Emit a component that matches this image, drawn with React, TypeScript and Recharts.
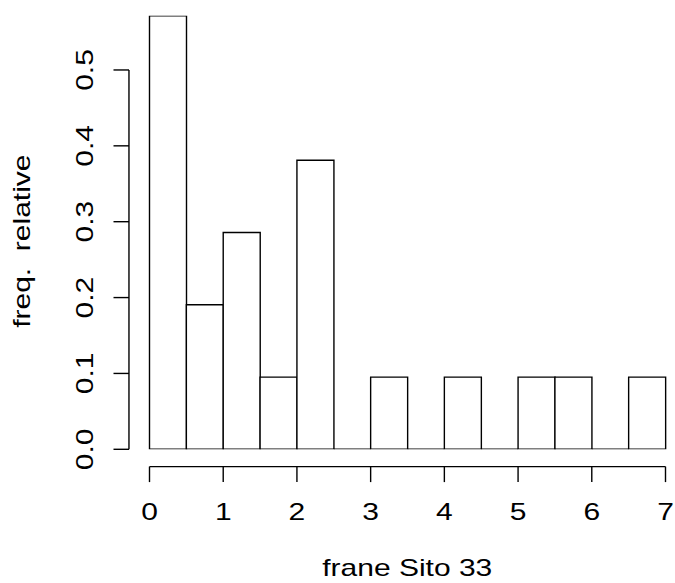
import React from 'react';
import { ComposedChart, Bar, XAxis, YAxis, ReferenceLine } from 'recharts';

// Histogram of "frane Sito 33" (density scale), bins of width 0.5
const binLabels = [
  '0-0.5', '0.5-1', '1-1.5', '1.5-2', '2-2.5', '2.5-3', '3-3.5',
  '3.5-4', '4-4.5', '4.5-5', '5-5.5', '5.5-6', '6-6.5', '6.5-7',
];
const binMids = [0.25, 0.75, 1.25, 1.75, 2.25, 2.75, 3.25, 3.75, 4.25, 4.75, 5.25, 5.75, 6.25, 6.75];
const binDensity = [
  0.5714, 0.1905, 0.2857, 0.0952, 0.381, 0, 0.0952,
  0, 0.0952, 0, 0.0952, 0.0952, 0, 0.0952,
];
const xTicks = [0, 1, 2, 3, 4, 5, 6, 7];
const yTicks = [0, 0.1, 0.2, 0.3, 0.4, 0.5];
const xTitle = 'frane Sito 33';
const yTitle = 'freq.  relative';

const data = binLabels.map((b, i) => ({ bin: b, mid: binMids[i], density: binDensity[i] }));

const W = 675;
const H = 583;
const FONT = '"Liberation Sans", Arial, Helvetica, sans-serif';
const FS = 24;
const STRETCH = 1.25;
const LW = 1.4;

const HistBar = (props: any) => {
  const { x, y, width, height } = props;
  return (
    <path
      d={`M${x},${y}h${width}v${height}h${-width}Z`}
      fill="#ffffff"
      stroke="#000000"
      strokeWidth={LW}
    />
  );
};

const XTick = (props: any) => {
  const { x, y, payload } = props;
  return (
    <g transform={`translate(${x},${y})`}>
      <text
        x={0}
        y={0}
        textAnchor="middle"
        transform={`scale(${STRETCH},1)`}
        fontFamily={FONT}
        fontSize={FS}
        fill="#000"
      >
        {payload.value}
      </text>
    </g>
  );
};

const YTick = (props: any) => {
  const { x, y, payload } = props;
  return (
    <g transform={`translate(${x},${y}) rotate(-90)`}>
      <text
        x={0}
        y={0}
        textAnchor="middle"
        transform={`scale(${STRETCH},1)`}
        fontFamily={FONT}
        fontSize={FS}
        fill="#000"
      >
        {Number(payload.value).toFixed(1)}
      </text>
    </g>
  );
};

const XTitle = (props: any) => {
  const { viewBox } = props;
  const cx = viewBox.x + viewBox.width / 2 + 10;
  return (
    <g transform={`translate(${cx},576)`}>
      <text textAnchor="middle" transform={`scale(${STRETCH},1)`} fontFamily={FONT} fontSize={FS} fill="#000">
        {xTitle}
      </text>
    </g>
  );
};

const YTitle = (props: any) => {
  const { viewBox } = props;
  const cy = viewBox.y + viewBox.height / 2;
  return (
    <g transform={`translate(30,${cy}) rotate(-90)`}>
      <text
        textAnchor="middle"
        transform={`scale(${STRETCH},1)`}
        fontFamily={FONT}
        fontSize={FS}
        fill="#000"
        style={{ whiteSpace: 'pre' }}
      >
        {yTitle}
      </text>
    </g>
  );
};

export default function App() {
  return (
    <div style={{ position: 'absolute', left: 0, top: 0, width: W, height: H, background: '#fff' }}>
      <ComposedChart
        width={W}
        height={H}
        data={data}
        margin={{ top: 15.8, right: 9.5, bottom: 0, left: 0 }}
        barCategoryGap={0}
        barGap={0}
      >
        <XAxis
          xAxisId="num"
          dataKey="mid"
          type="number"
          domain={[0, 7]}
          ticks={xTicks}
          allowDataOverflow
          padding={{ left: 20.5, right: 0 }}
          height={116.4}
          axisLine={false}
          tickLine={{ stroke: '#000', strokeWidth: LW }}
          tickSize={15.5}
          tickMargin={37.9}
          tick={<XTick />}
          interval={0}
          label={<XTitle />}
        />
        <XAxis
          xAxisId="bins"
          dataKey="bin"
          type="category"
          hide
          height={0}
          padding={{ left: 20.5, right: 0 }}
        />
        <YAxis
          type="number"
          domain={[0, 0.5714]}
          ticks={yTicks}
          allowDataOverflow
          padding={{ top: 0, bottom: 17.3 }}
          width={129}
          axisLine={false}
          tickLine={{ stroke: '#000', strokeWidth: LW }}
          tickSize={15.5}
          tickMargin={20.5}
          tick={<YTick />}
          interval={0}
          label={<YTitle />}
        />
        <Bar
          xAxisId="bins"
          dataKey="density"
          shape={<HistBar />}
          isAnimationActive={false}
        />
        <ReferenceLine
          xAxisId="num"
          segment={[{ x: 0, y: -0.02281 }, { x: 7, y: -0.02281 }]}
          stroke="#000"
          strokeWidth={LW}
          ifOverflow="visible"
        />
        <ReferenceLine
          xAxisId="num"
          segment={[{ x: -0.2786, y: 0 }, { x: -0.2786, y: 0.5 }]}
          stroke="#000"
          strokeWidth={LW}
          ifOverflow="visible"
        />
      </ComposedChart>
    </div>
  );
}
